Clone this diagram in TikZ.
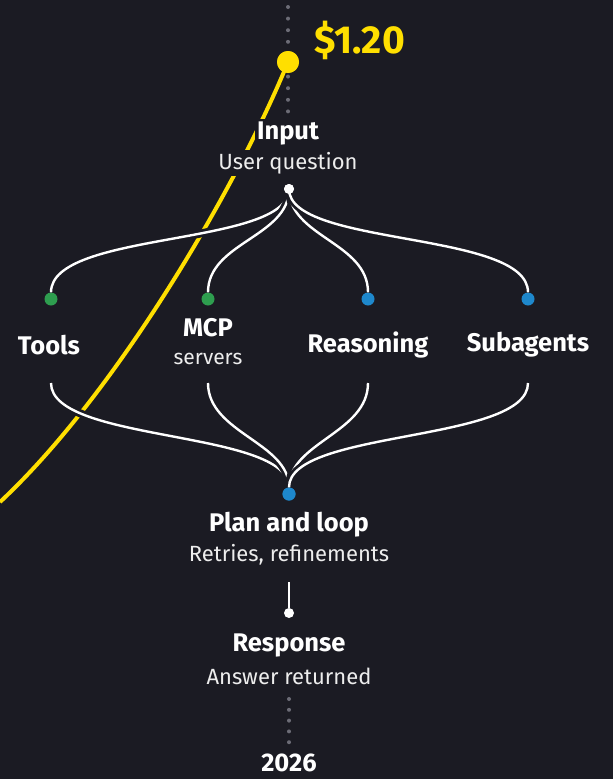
\documentclass[tikz,border=0pt]{standalone}
\usepackage{fontspec}
\setmainfont{Fira Sans}
\usepackage{xcolor}
\usetikzlibrary{arrows.meta,positioning,calc}

\definecolor{bg}{HTML}{1B1B23}
\definecolor{cost}{HTML}{FFDF00}
\definecolor{dotgray}{HTML}{6C6C76}
\definecolor{grn}{HTML}{2E9E4F}
\definecolor{blu}{HTML}{1E88CC}

\begin{document}
\begin{tikzpicture}[
  x=1pt,y=-1pt,
  title/.style={font=\fontsize{25.5}{27}\selectfont\bfseries,text=white,fill=bg,inner sep=2pt},
  sub/.style={font=\fontsize{22}{24}\selectfont,text=white!92!bg,fill=bg,inner sep=2pt},
  hub/.style={circle,fill=white,inner sep=0pt,minimum size=10pt},
  leaf/.style={circle,inner sep=0pt,minimum size=13pt},
  link/.style={draw=white,line width=2.4pt,preaction={draw=bg,line width=8pt}},
  timeline/.style={draw=dotgray,line width=4pt,line cap=round,dash pattern=on 0pt off 11.6pt}
]
\useasboundingbox[fill=bg] (0,0) rectangle (613,779);

% time axis
\coordinate (tTop) at (288,7);
\coordinate (tIn)  at (288,112);
\coordinate (tOut) at (289,699);
\coordinate (tBot) at (289,743);
\draw[timeline] (tTop) -- (tIn);
\draw[timeline,dash pattern=on 0pt off 10.8pt] (tOut) -- (tBot);

% cost curve
\coordinate (cStart) at (0,502);
\node[circle,fill=cost,inner sep=0pt,minimum size=22pt] (price) at (288,62) {};
\draw[cost,line width=4pt] (cStart) .. controls (120,390) and (240,180) .. (price.center);
\node[circle,fill=cost,inner sep=0pt,minimum size=22pt] at (price) {};
\node[anchor=west,text=cost,font=\fontsize{39}{41}\selectfont\bfseries] (priceL) at (311,40) {\$1.20};

% input
\node[title] (inT) at (288,133) {Input};
\node[sub]   (inS) at (288,163) {User question};
\node[hub]   (inHub) at (289,189) {};

% branches
\node[leaf,fill=grn] (tools) at (51,299)  {};
\node[leaf,fill=grn] (mcp)   at (208,299) {};
\node[leaf,fill=blu] (reas)  at (368,299) {};
\node[leaf,fill=blu] (subag) at (528,299) {};

\node[title] (toolsT) at (49,345)  {Tools};
\node[title] (mcpT)   at (208,328) {MCP};
\node[sub,font=\fontsize{21}{23}\selectfont] (mcpS) at (208,359) {servers};
\node[title] (reasT)  at (368,345) {Reasoning};
\node[title] (subagT) at (528,345) {Subagents};

\draw[link] (inHub.center) .. controls +(0,58) and +(0,-62) .. (tools.north);
\draw[link] (inHub.center) .. controls +(0,48) and +(0,-50) .. (mcp.north);
\draw[link] (inHub.center) .. controls +(0,48) and +(0,-50) .. (reas.north);
\draw[link] (inHub.center) .. controls +(0,58) and +(0,-62) .. (subag.north);
\node[hub] at (inHub) {};

% plan
\coordinate (toolsB) at (51,383);
\coordinate (mcpB)   at (208,383);
\coordinate (reasB)  at (368,383);
\coordinate (subagB) at (528,383);
\node[leaf,fill=blu] (plan) at (289,494) {};

\draw[link] (toolsB) .. controls +(0,60) and +(0,-58) .. (plan.north);
\draw[link] (mcpB)   .. controls +(0,50) and +(0,-45) .. (plan.north);
\draw[link] (reasB)  .. controls +(0,50) and +(0,-45) .. (plan.north);
\draw[link] (subagB) .. controls +(0,60) and +(0,-58) .. (plan.north);
\node[leaf,fill=blu] at (plan) {};

\node[title] (planT) at (289,525) {Plan and loop};
\node[sub]   (planS) at (289,555) {Retries, refinements};

% response
\coordinate (planEnd) at (289,582);
\node[hub] (respHub) at (289,613) {};
\draw[white,line width=2.4pt] (planEnd) -- (respHub);
\node[title] (respT) at (289,645) {Response};
\node[sub]   (respS) at (289,676) {Answer returned};

\node[title,fill=none,inner sep=0pt] (year) at (289,763) {2026};
\end{tikzpicture}
\end{document}
